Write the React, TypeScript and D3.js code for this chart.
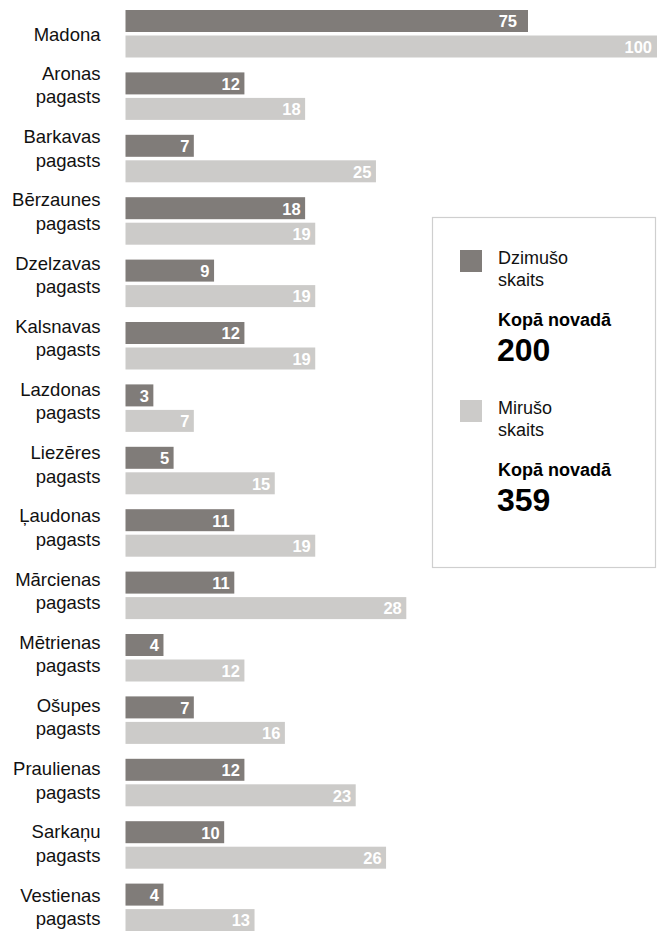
import React from "react";
import * as d3 from "d3";

const WIDTH = 657;
const HEIGHT = 931;

// municipality / parishes
const places = [
  "Madona",
  "Aronas pagasts",
  "Barkavas pagasts",
  "Bērzaunes pagasts",
  "Dzelzavas pagasts",
  "Kalsnavas pagasts",
  "Lazdonas pagasts",
  "Liezēres pagasts",
  "Ļaudonas pagasts",
  "Mārcienas pagasts",
  "Mētrienas pagasts",
  "Ošupes pagasts",
  "Praulienas pagasts",
  "Sarkaņu pagasts",
  "Vestienas pagasts",
];
const births = [75, 12, 7, 18, 9, 12, 3, 5, 11, 11, 4, 7, 12, 10, 4];
const deaths = [100, 18, 25, 19, 19, 19, 7, 15, 19, 28, 12, 16, 23, 26, 13];

const legendItems = [
  { lines: ["Dzimušo", "skaits"], total: "200" },
  { lines: ["Mirušo", "skaits"], total: "359" },
];
const totalLabel = "Kopā novadā";

const DARK = "#807c79";
const LIGHT = "#cccbc9";
const FONT = "'Liberation Sans', Arial, Helvetica, sans-serif";
const NARROW = "'Liberation Sans Narrow', 'Liberation Sans', Arial, sans-serif";

const App = () => {
  const y = d3
    .scaleBand<string>()
    .domain(places)
    .range([10, 10 + places.length * 62.4]);

  // parishes share one scale, Madona (the town) has its own
  const x = d3.scaleLinear().domain([0, 28]).range([123, 406.3]);
  const xTown = d3.scaleLinear().domain([0, 100]).range([123, 663]);

  // text rows drift slightly against the bars
  const labelY = d3.scaleLinear().domain([1, 14]).range([80, 901.6]);

  const barH = 22;
  const barLeft = 125.5;

  const rows = places.map((p, i) => ({
    name: p,
    i,
    values: [births[i], deaths[i]],
  }));

  return (
    <div>
      <style>{"body{margin:0}"}</style>
      <svg width={WIDTH} height={HEIGHT} style={{ display: "block" }} fontFamily={FONT}>
        {rows.map((r) => {
          const top = y(r.name) as number;
          const sc = r.i === 0 ? xTown : x;
          const pad = r.i === 0 ? 11 : 4.5;
          const parts = r.name.split(" ");
          return (
            <g key={r.name}>
              {r.values.map((v, k) => {
                const by = top + k * 25.5;
                const end = sc(v);
                return (
                  <g key={k}>
                    <rect
                      x={barLeft}
                      y={by}
                      width={end - barLeft}
                      height={barH}
                      fill={k === 0 ? DARK : LIGHT}
                    />
                    <text
                      x={end - pad}
                      y={by + 17.3}
                      textAnchor="end"
                      fill="#fff"
                      fontWeight="bold"
                      fontSize={16.5}
                      fontFamily={NARROW}
                    >
                      {v}
                    </text>
                  </g>
                );
              })}
              {parts.length === 1 ? (
                <text x={100.5} y={40.7} textAnchor="end" fontSize={18.5} fill="#111">
                  {parts[0]}
                </text>
              ) : (
                parts.map((t, j) => (
                  <text
                    key={j}
                    x={100.5}
                    y={labelY(r.i) + j * 23.3}
                    textAnchor="end"
                    fontSize={18.5}
                    fill="#111"
                  >
                    {t}
                  </text>
                ))
              )}
            </g>
          );
        })}

        <rect x={432.5} y={217.5} width={223} height={350} fill="#fff" stroke="#cfcfcf" strokeWidth={1.2} />
        {legendItems.map((d, k) => {
          const oy = k * 150;
          return (
            <g key={k} transform={`translate(0,${oy})`}>
              <rect x={460} y={250} width={22} height={22} fill={k === 0 ? DARK : LIGHT} />
              {d.lines.map((t, j) => (
                <text key={j} x={498} y={264 + j * 21.5} fontSize={18} fill="#111">
                  {t}
                </text>
              ))}
              <text x={498} y={326} fontSize={18} fontWeight="bold" fill="#000">
                {totalLabel}
              </text>
              <text x={497} y={361} fontSize={32} fontWeight="bold" fill="#000">
                {d.total}
              </text>
            </g>
          );
        })}
      </svg>
    </div>
  );
};

export default App;
